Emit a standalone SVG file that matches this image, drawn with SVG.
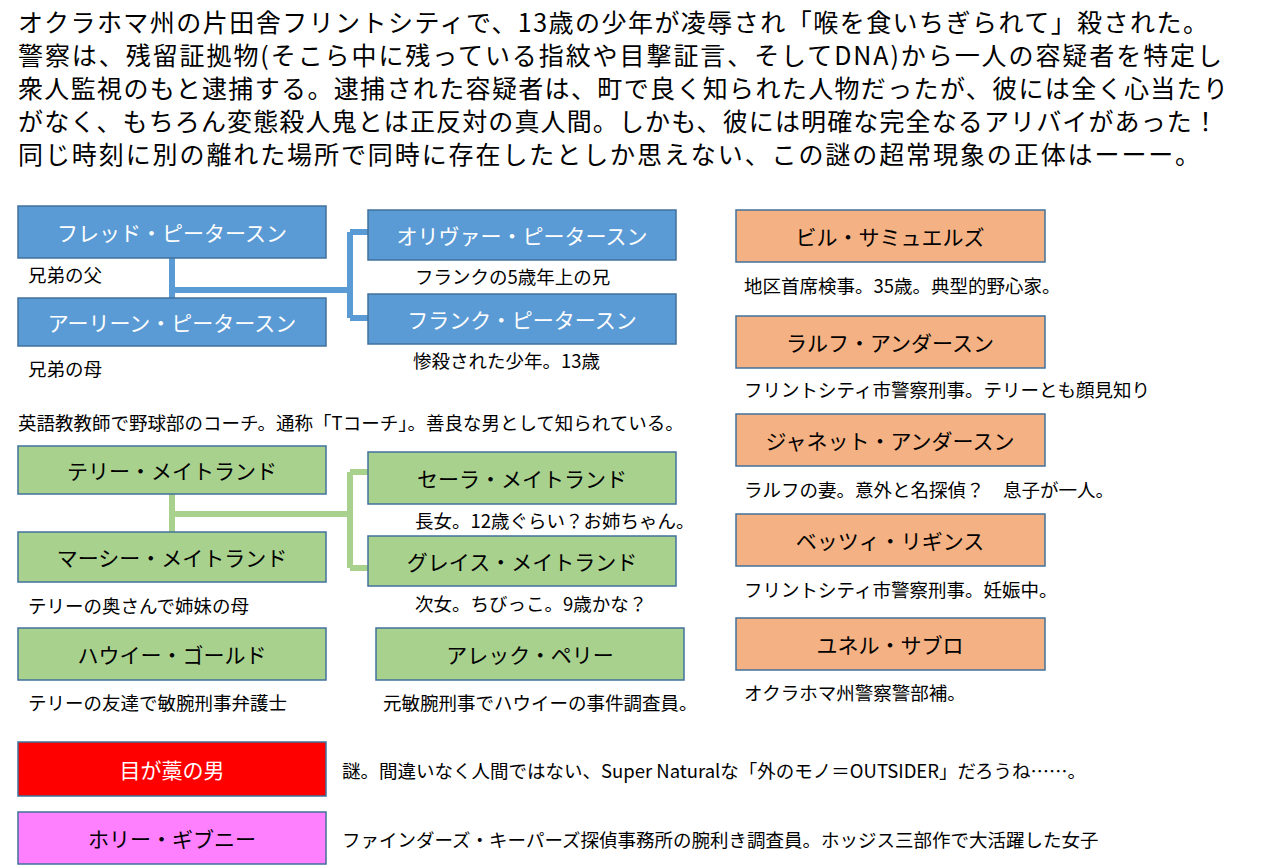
<svg xmlns="http://www.w3.org/2000/svg" width="1280" height="868" viewBox="0 0 1280 868">
<style>
text{font-family:"Noto Sans CJK JP","Liberation Sans",sans-serif;fill:#000}
.h{font-size:25px}
.n{font-size:21px;text-anchor:middle;dominant-baseline:central}
.w{fill:#fff}
.l{font-size:18.5px}
.b{fill:#5b9bd5;stroke:#41719c;stroke-width:1.5}
.g{fill:#a9d18e;stroke:#41719c;stroke-width:1.5}
.o{fill:#f4b183;stroke:#41719c;stroke-width:1.5}
.r{fill:#ff0000;stroke:#41719c;stroke-width:1.5}
.p{fill:#ff80ff;stroke:#41719c;stroke-width:1.5}
.cb{fill:none;stroke:#5b9bd5;stroke-width:6}
.cg{fill:none;stroke:#a9d18e;stroke-width:6}
</style>
<rect width="1280" height="868" fill="#fff"/>
<g id="header">
<text class="h" x="18" y="32" textLength="1190" lengthAdjust="spacing">オクラホマ州の片田舎フリントシティで、13歳の少年が凌辱され「喉を食いちぎられて」殺された。</text>
<text class="h" x="18" y="65" textLength="1204" lengthAdjust="spacing">警察は、残留証拠物(そこら中に残っている指紋や目撃証言、そしてDNA)から一人の容疑者を特定し</text>
<text class="h" x="18" y="98" textLength="1210" lengthAdjust="spacing">衆人監視のもと逮捕する。逮捕された容疑者は、町で良く知られた人物だったが、彼には全く心当たり</text>
<text class="h" x="18" y="131" textLength="1200" lengthAdjust="spacing">がなく、もちろん変態殺人鬼とは正反対の真人間。しかも、彼には明確な完全なるアリバイがあった！</text>
<text class="h" x="18" y="164" textLength="1182" lengthAdjust="spacing">同じ時刻に別の離れた場所で同時に存在したとしか思えない、この謎の超常現象の正体はーーー。</text>
</g>
<g id="connectors">
<path class="cb" d="M172 258V298M172 290H350M350 232V318M350 232H368M350 318H368"/>
<path class="cg" d="M172 494V532M172 514H350M350 472V568M350 472H368M350 568H368"/>
</g>
<g id="fred"><rect class="b" x="18" y="206" width="308" height="52"/><text class="n w" x="172" y="232">フレッド・ピータースン</text><text class="l" x="28" y="282">兄弟の父</text></g>
<g id="arleen"><rect class="b" x="18" y="298" width="308" height="48"/><text class="n w" x="172" y="322">アーリーン・ピータースン</text><text class="l" x="28" y="376">兄弟の母</text></g>
<g id="oliver"><rect class="b" x="368" y="210" width="308" height="50"/><text class="n w" x="522" y="235">オリヴァー・ピータースン</text><text class="l" x="415" y="284">フランクの5歳年上の兄</text></g>
<g id="frank"><rect class="b" x="368" y="294" width="308" height="50"/><text class="n w" x="522" y="319">フランク・ピータースン</text><text class="l" x="413" y="368">惨殺された少年。13歳</text></g>
<text class="l" x="18" y="430">英語教教師で野球部のコーチ。通称「Tコーチ」。善良な男として知られている。</text>
<g id="terry"><rect class="g" x="18" y="446" width="308" height="48"/><text class="n" x="172" y="470">テリー・メイトランド</text></g>
<g id="marcy"><rect class="g" x="18" y="532" width="308" height="50"/><text class="n" x="172" y="557">マーシー・メイトランド</text><text class="l" x="28" y="613">テリーの奥さんで姉妹の母</text></g>
<g id="sarah"><rect class="g" x="368" y="452" width="308" height="52"/><text class="n" x="522" y="478">セーラ・メイトランド</text><text class="l" x="415" y="528">長女。12歳ぐらい？お姉ちゃん。</text></g>
<g id="grace"><rect class="g" x="368" y="536" width="308" height="50"/><text class="n" x="522" y="561">グレイス・メイトランド</text><text class="l" x="415" y="611">次女。ちびっこ。9歳かな？</text></g>
<g id="howie"><rect class="g" x="18" y="628" width="308" height="52"/><text class="n" x="172" y="654">ハウイー・ゴールド</text><text class="l" x="28" y="710">テリーの友達で敏腕刑事弁護士</text></g>
<g id="alec"><rect class="g" x="376" y="628" width="308" height="52"/><text class="n" x="530" y="654">アレック・ペリー</text><text class="l" x="383" y="710">元敏腕刑事でハウイーの事件調査員。</text></g>
<g id="bill"><rect class="o" x="736" y="210" width="309" height="52"/><text class="n" x="890" y="236">ビル・サミュエルズ</text><text class="l" x="744" y="293">地区首席検事。35歳。典型的野心家。</text></g>
<g id="ralph"><rect class="o" x="736" y="316" width="309" height="52"/><text class="n" x="890" y="342">ラルフ・アンダースン</text><text class="l" x="744" y="397">フリントシティ市警察刑事。テリーとも顔見知り</text></g>
<g id="janet"><rect class="o" x="736" y="414" width="309" height="52"/><text class="n" x="890" y="440">ジャネット・アンダースン</text><text class="l" x="744" y="497">ラルフの妻。意外と名探偵？　息子が一人。</text></g>
<g id="betsy"><rect class="o" x="736" y="514" width="309" height="52"/><text class="n" x="890" y="540">ベッツィ・リギンス</text><text class="l" x="744" y="597">フリントシティ市警察刑事。妊娠中。</text></g>
<g id="yunel"><rect class="o" x="736" y="618" width="309" height="52"/><text class="n" x="890" y="644">ユネル・サブロ</text><text class="l" x="744" y="700">オクラホマ州警察警部補。</text></g>
<g id="straw"><rect class="r" x="18" y="742" width="308" height="54"/><text class="n w" x="172" y="769">目が藁の男</text><text class="l" x="342" y="778">謎。間違いなく人間ではない、Super Naturalな「外のモノ＝OUTSIDER」だろうね……。</text></g>
<g id="holly"><rect class="p" x="18" y="812" width="308" height="52"/><text class="n" x="172" y="838">ホリー・ギブニー</text><text class="l" x="342" y="847">ファインダーズ・キーパーズ探偵事務所の腕利き調査員。ホッジス三部作で大活躍した女子</text></g>
</svg>
